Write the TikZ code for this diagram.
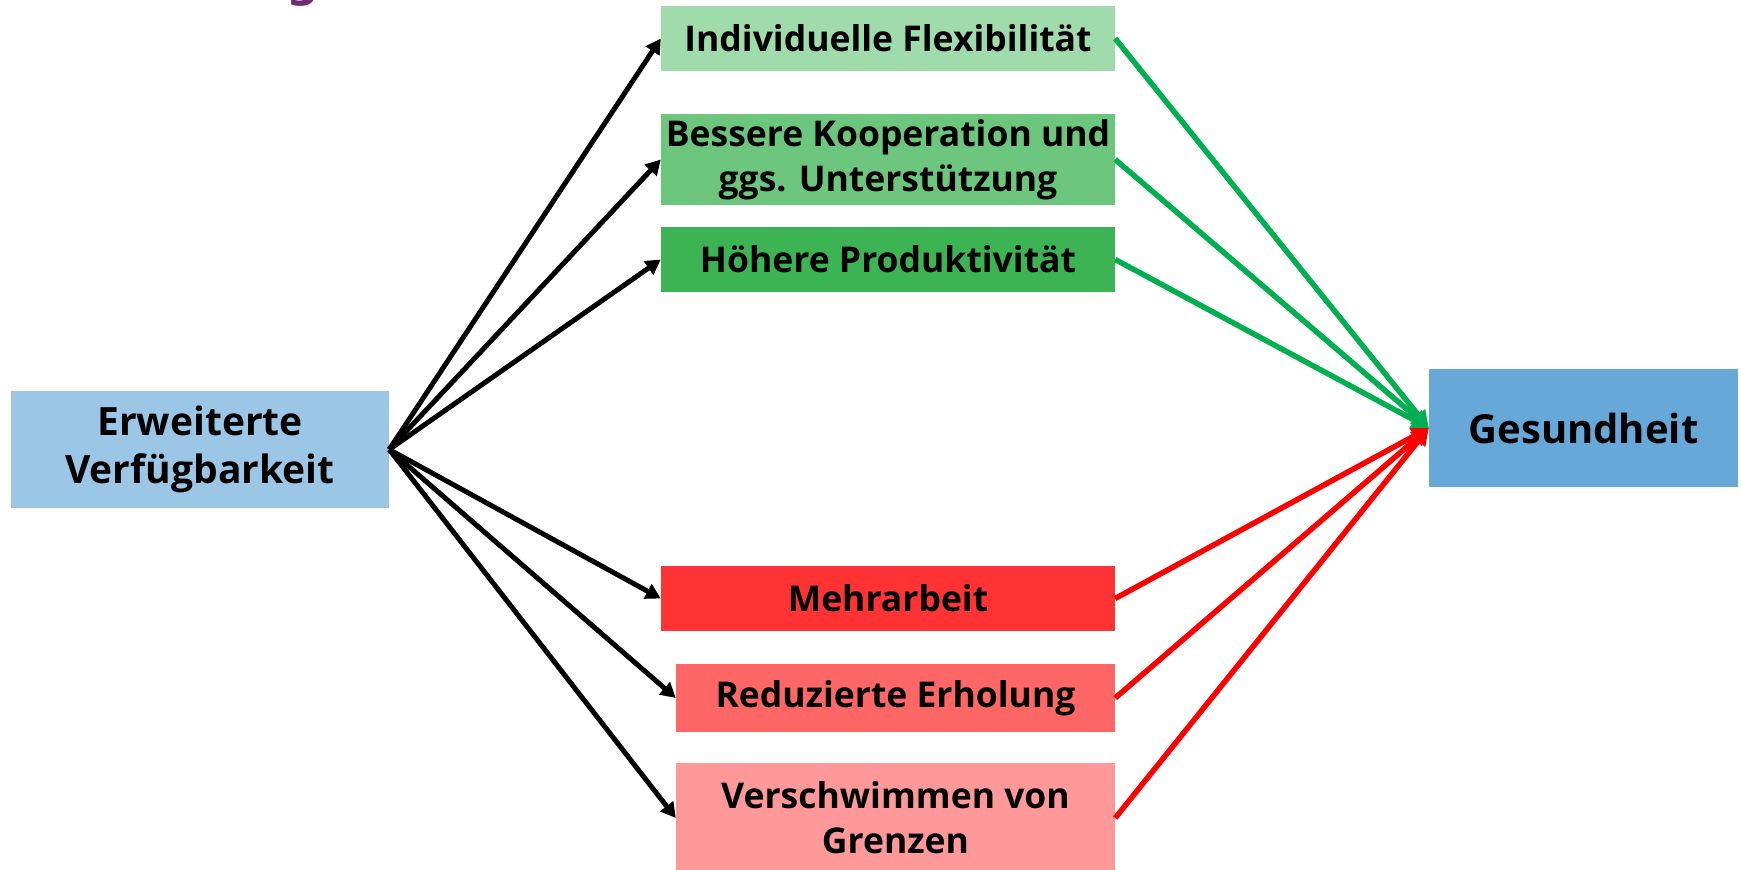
\documentclass[tikz,border=0pt]{standalone}
\usepackage{fontspec}
\setmainfont{Open Sans}
\newfontfamily\titlefont{DejaVu Sans}
\usetikzlibrary{arrows.meta}
\definecolor{gA}{HTML}{A0DBAB}
\definecolor{gB}{HTML}{6DC67E}
\definecolor{gC}{HTML}{3CB454}
\definecolor{rA}{HTML}{FF3333}
\definecolor{rB}{HTML}{FF6666}
\definecolor{rC}{HTML}{FF9999}
\definecolor{bL}{HTML}{9BC6E5}
\definecolor{bR}{HTML}{66A8D8}
\definecolor{arrG}{HTML}{00B050}
\definecolor{arrR}{HTML}{FF0000}
\definecolor{titlePurple}{HTML}{6E2D6E}
\tikzset{
  box/.style={inner sep=0pt, align=center, font=\fontsize{35.5}{45}\selectfont\bfseries, text=black},
  blk/.style={line width=5pt, draw=black, -{Triangle[length=15pt,width=16pt]}},
  grn/.style={line width=5.5pt, draw=arrG, -{Triangle[length=17pt,width=17pt]}},
  red/.style={line width=5.5pt, draw=arrR, -{Triangle[length=17pt,width=17pt]}},
}
\begin{document}
\begin{tikzpicture}[x=1pt,y=-1pt]
\useasboundingbox (0,0) rectangle (1741,870);
\node[font=\titlefont\fontsize{46}{46}\selectfont\bfseries, text=titlePurple, anchor=base, inner sep=0pt] (ttl) at (303,-4) {g};
\node[box, fill=bL, minimum width=378pt, minimum height=117pt, font=\fontsize{39}{48}\selectfont\bfseries] (src) at (200,449.5) {Erweiterte\\Verfügbarkeit};
\node[box, fill=bR, minimum width=309pt, minimum height=118pt, font=\fontsize{40}{48}\selectfont\bfseries] (ges) at (1583.5,428) {Gesundheit};
\node[box, fill=gA, minimum width=454pt, minimum height=65pt] (b1) at (888,38.5) {Individuelle Flexibilität};
\node[box, fill=gB, minimum width=454pt, minimum height=91pt] (b2) at (888,159.5) {Bessere Kooperation und\\ggs. Unterstützung};
\node[box, fill=gC, minimum width=454pt, minimum height=65pt] (b3) at (888,259.5) {Höhere Produktivität};
\node[box, fill=rA, minimum width=454pt, minimum height=65pt] (b4) at (888,598.5) {Mehrarbeit};
\node[box, fill=rB, minimum width=439pt, minimum height=68pt] (b5) at (895.5,698) {Reduzierte Erholung};
\node[box, fill=rC, minimum width=439pt, minimum height=110pt] (b6) at (895.5,818) {Verschwimmen von\\Grenzen};
\foreach \b in {b1,b2,b3,b4,b5,b6} \draw[blk] (src.east) -- (\b.west);
\foreach \b in {b1,b2,b3} \draw[grn] (\b.east) -- (ges.west);
\foreach \b in {b4,b5,b6} \draw[red] (\b.east) -- (ges.west);
\end{tikzpicture}
\end{document}
